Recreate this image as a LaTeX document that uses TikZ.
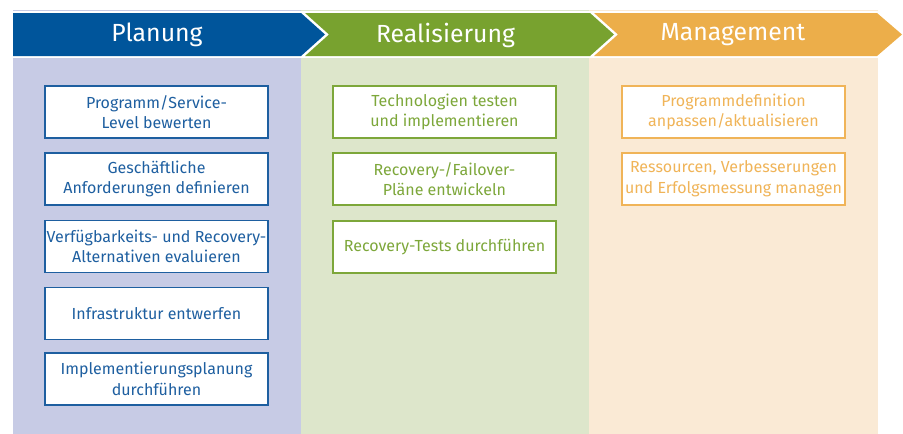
\documentclass[tikz,border=0pt]{standalone}
\usepackage{fontspec}
\setmainfont{Fira Sans}
\definecolor{pblue}{HTML}{00559B}
\definecolor{pgreen}{HTML}{78A22F}
\definecolor{porange}{HTML}{ECAE4A}
\definecolor{bgblue}{HTML}{C7CBE5}
\definecolor{bggreen}{HTML}{DDE6CB}
\definecolor{bgorange}{HTML}{FAEAD5}
\definecolor{tblue}{HTML}{1E5FA0}
\definecolor{tgreen}{HTML}{7DA73A}
\definecolor{torange}{HTML}{F0B458}
\tikzset{
  box/.style={draw, line width=1.3pt, fill=white, minimum width=223pt, minimum height=52pt,
    align=center, font=\fontsize{16}{20.7}\selectfont, inner sep=0pt},
  bbox/.style={box, draw=tblue, text=tblue},
  gbox/.style={box, draw=tgreen, text=tgreen},
  obox/.style={box, draw=torange, text=torange},
  head/.style={text=white, font=\fontsize{24.8}{28}\selectfont, anchor=center}
}
\begin{document}
\begin{tikzpicture}[x=1pt,y=-1pt]
\useasboundingbox (0,0) rectangle (903,434);
% top thin lines
\draw[bgblue, line width=1.2pt] (13,10.5) -- (301,10.5);
\draw[bggreen, line width=1.2pt] (301,10.5) -- (589,10.5);
\draw[bgorange, line width=1.2pt] (589,10.5) -- (878,10.5);
% columns
\fill[bgblue] (13,57.5) rectangle (301,434);
\fill[bggreen] (301,57.5) rectangle (589,434);
\fill[bgorange] (589,57.5) rectangle (878,434);
% header chevrons
\fill[pblue] (13,13) -- (301,13) -- (325,34.5) -- (301,56) -- (13,56) -- cycle;
\fill[pgreen] (305,13) -- (590,13) -- (614,34.5) -- (590,56) -- (305,56) -- (329,34.5) -- cycle;
\fill[porange] (594,13) -- (877,13) -- (902,34.5) -- (877,56) -- (594,56) -- (618,34.5) -- cycle;
\node[head] (h1) at (157,35) {Planung};
\node[head] (h2) at (445.5,35) {Realisierung};
\node[head] (h3) at (733,35) {Management};
% boxes
\node[bbox] (b1) at (156.5,112) {Programm/Service-\\Level bewerten};
\node[bbox] (b2) at (156.5,179) {Geschäftliche\\Anforderungen definieren};
\node[bbox] (b3) at (156.5,246.5) {Verfügbarkeits- und Recovery-\\Alternativen evaluieren};
\node[bbox] (b4) at (156.5,313.5) {Infrastruktur entwerfen};
\node[bbox] (b5) at (156.5,379) {Implementierungsplanung\\durchführen};
\node[gbox] (g1) at (444.5,112) {Technologien testen\\und implementieren};
\node[gbox] (g2) at (444.5,179) {Recovery-/Failover-\\Pläne entwickeln};
\node[gbox] (g3) at (444.5,247) {Recovery-Tests durchführen};
\node[obox] (o1) at (733.5,112) {Programmdefinition\\anpassen/aktualisieren};
\node[obox] (o2) at (733.5,179) {Ressourcen, Verbesserungen\\und Erfolgsmessung managen};
\end{tikzpicture}
\end{document}
